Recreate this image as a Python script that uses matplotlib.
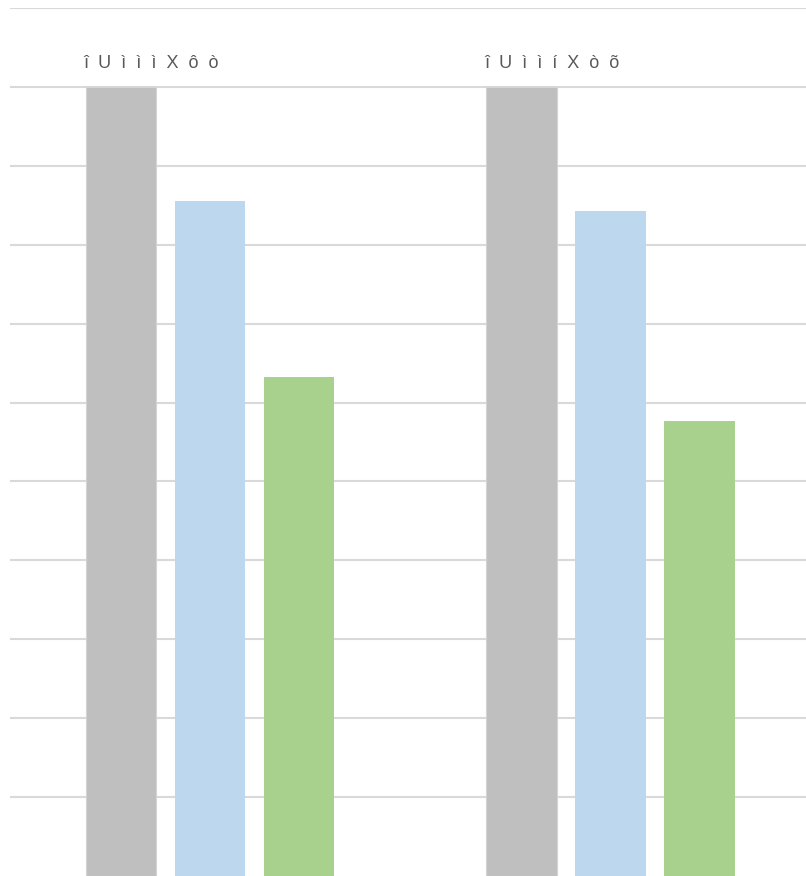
import matplotlib
matplotlib.use("Agg")
import matplotlib.pyplot as plt
import numpy as np

groups = ["îUìììXôò", "îUììíXòõ"]
series_gray = [100.0, 100.0]
series_blue = [85.6, 84.3]
series_green = [63.3, 57.6]

colors = ["#bfbfbf", "#bdd7ee", "#a9d18e"]

fig = plt.figure(figsize=(8.06, 8.76), dpi=100)
ax = fig.add_axes([10/806, 0, 796/806, 868/876])

x = np.arange(len(groups))
w = 0.176
off = 0.2222
ax.bar(x - off, series_gray, width=w, color=colors[0], edgecolor="#d4d4d4", linewidth=0.8, zorder=3)
ax.bar(x, series_blue, width=w, color=colors[1], zorder=3)
ax.bar(x + off, series_green, width=w, color=colors[2], zorder=3)

for xi, g in zip(x, groups):
    ax.text(xi - off - w/2 - 0.005, 102.4, "  ".join(g), ha="left", va="baseline",
            fontsize=13, color="#595959", family="Liberation Sans")

ax.set_xlim(-0.4994, 1.4881)
ax.set_ylim(0, 110)
ax.set_yticks(np.arange(10, 111, 10))
ax.yaxis.grid(True, color="#d9d9d9", linewidth=1.5, zorder=0)
ax.set_axisbelow(True)
ax.tick_params(left=False, bottom=False, labelleft=False, labelbottom=False)
for s in ax.spines.values():
    s.set_visible(False)

fig.savefig("out.png", dpi=100)
